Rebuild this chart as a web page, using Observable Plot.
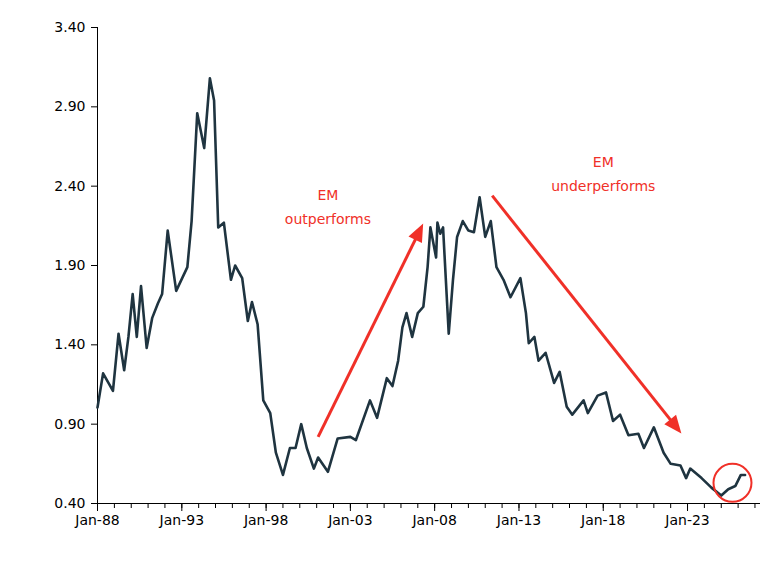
<!DOCTYPE html>
<html><head><meta charset="utf-8">
<script src="https://cdn.jsdelivr.net/npm/d3@7"></script>
<script src="https://cdn.jsdelivr.net/npm/@observablehq/plot@0.6"></script>
<style>body{margin:0;background:#fff} svg text{font-size:14px}</style>
</head><body><div id="chart"></div>
<script>
const years = [1988.0,1988.35,1988.95,1989.25,1989.55,1989.8,1990.1,1990.3,1990.55,1990.9,1991.25,1991.6,1991.85,1992.15,1992.7,1993.35,1993.6,1993.9,1994.3,1994.65,1994.9,1995.2,1995.5,1995.9,1996.15,1996.6,1996.9,1997.2,1997.5,1997.85,1998.25,1998.55,1999.0,1999.45,1999.75,2000.1,2000.45,2000.8,2001.1,2001.65,2002.25,2003.0,2003.3,2004.2,2004.6,2005.2,2005.5,2005.8,2006.1,2006.35,2006.7,2007.0,2007.35,2007.6,2007.75,2008.05,2008.2,2008.35,2008.5,2008.85,2009.1,2009.35,2009.7,2010.0,2010.3,2010.7,2011.0,2011.3,2011.7,2012.05,2012.5,2013.05,2013.4,2013.6,2013.9,2014.2,2014.6,2015.05,2015.4,2015.8,2016.2,2016.8,2017.1,2017.7,2018.2,2018.6,2019.0,2019.5,2020.05,2020.4,2021.0,2021.6,2022.0,2022.6,2022.9,2023.2,2023.8,2024.4,2025.0,2025.4,2025.85,2026.15,2026.45];
const values = [1.005,1.22,1.11,1.47,1.24,1.45,1.72,1.45,1.77,1.38,1.57,1.66,1.72,2.12,1.74,1.89,2.18,2.86,2.64,3.08,2.94,2.14,2.17,1.81,1.90,1.82,1.55,1.67,1.53,1.05,0.97,0.72,0.58,0.75,0.75,0.90,0.75,0.62,0.69,0.60,0.81,0.82,0.80,1.05,0.94,1.19,1.14,1.30,1.51,1.60,1.45,1.60,1.64,1.89,2.14,1.95,2.17,2.10,2.14,1.47,1.81,2.08,2.18,2.12,2.11,2.33,2.08,2.18,1.89,1.81,1.70,1.82,1.60,1.41,1.45,1.30,1.35,1.16,1.23,1.01,0.96,1.05,0.97,1.08,1.10,0.92,0.96,0.83,0.84,0.75,0.88,0.72,0.65,0.64,0.56,0.62,0.56,0.50,0.45,0.49,0.51,0.58,0.58];
const majorTickYears = [1988,1993,1998,2003,2008,2013,2018,2023];
const yTicks = [0.40,0.90,1.40,1.90,2.40,2.90,3.40];
const labels = [{year:2001.7, v:2.34, t:"EM"},{year:2001.7, v:2.19, t:"outperforms"},{year:2018.0, v:2.55, t:"EM"},{year:2018.0, v:2.40, t:"underperforms"}];
const arrows = [{x1:2001.1,y1:0.82,x2:2007.2,y2:2.13},{x1:2011.45,y1:2.34,x2:2022.4,y2:0.87}];
const highlight = [{year:2025.7, v:0.53}];

const toDate = y => { const yr = Math.floor(y); const m = Math.round((y-yr)*12); return new Date(Date.UTC(yr, m, 1)); };
const data = years.map((y,i)=>({date:toDate(y), v:values[i]}));
const minorTicks = d3.range(1988, 2028).map(y=>new Date(Date.UTC(y,0,1)));
const majorTicks = majorTickYears.map(y=>new Date(Date.UTC(y,0,1)));
const fmt = d3.utcFormat("Jan-%y");
const red = "#f03028";
const font = "DejaVu Sans, Verdana, sans-serif";

function headMarker(color, context) {
  const m = d3.create("svg:marker")
    .attr("viewBox", "-6 -5 12 10").attr("markerWidth", 6).attr("markerHeight", 5)
    .attr("markerUnits", "strokeWidth").attr("orient", "auto").attr("refX", 2).attr("refY", 0)
    .attr("overflow", "visible");
  m.append("path").attr("d", "M-6,-5L6,0L-6,5Z").attr("fill", color).attr("stroke", "none");
  return m.node();
}

const chart = Plot.plot({
  width:767, height:562,
  marginLeft:97, marginRight:7, marginTop:27, marginBottom:59,
  style:{fontFamily:font, fontSize:"14px", color:"#000", background:"#fff"},
  x:{type:"utc", domain:[toDate(1988), toDate(2027.3)]},
  y:{domain:[0.40,3.40]},
  marks:[
    Plot.axisX({ticks:minorTicks, tickSize:5, tickFormat:()=>"", stroke:"#000"}),
    Plot.axisX({ticks:majorTicks, tickSize:8, tickPadding:4, tickFormat:fmt, stroke:"#000"}),
    Plot.axisY({ticks:yTicks, tickSize:6, tickPadding:6, tickFormat:d3.format(".2f")}),
    Plot.ruleY([0.40], {stroke:"#000"}),
    Plot.ruleX([toDate(1988)], {stroke:"#000"}),
    Plot.line(data, {x:"date", y:"v", stroke:"#1f3440", strokeWidth:2.6}),
    Plot.link(arrows, {x1:d=>toDate(d.x1), y1:"y1", x2:d=>toDate(d.x2), y2:"y2", stroke:red, strokeWidth:3, markerEnd:headMarker}),
    Plot.text(labels, {x:d=>toDate(d.year), y:"v", text:"t", fill:red, fontSize:16, fontFamily:font}),
    Plot.dot(highlight, {x:d=>toDate(d.year), y:"v", r:19, stroke:red, strokeWidth:2, fill:"none"})
  ]
});
document.getElementById("chart").append(chart);
</script></body></html>
